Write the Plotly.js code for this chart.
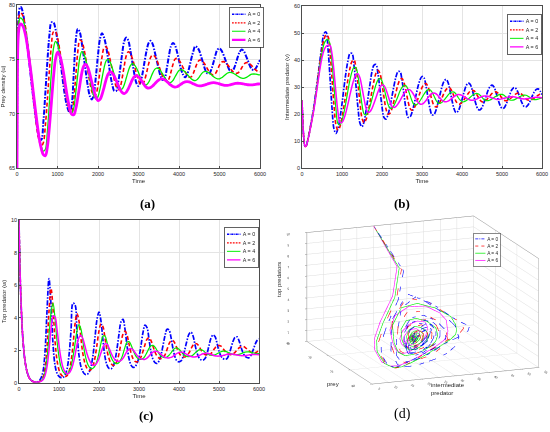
<!DOCTYPE html>
<html><head><meta charset="utf-8">
<script src="https://cdn.plot.ly/plotly-3.0.1.min.js"></script>
<style>html,body{margin:0;padding:0;background:#fff;}#chart{width:550px;height:432px;}</style>
</head><body><div id="chart"></div>
<script>
// ---------------- data ----------------
const time = [
0,10,25,50,75,100,150,200,250,300,
350,400,450,500,550,600,650,700,750,800,
850,900,950,1000,1050,1100,1150,1200,1250,1300,
1350,1400,1450,1500,1550,1600,1650,1700,1750,1800,
1850,1900,1950,2000,2050,2100,2150,2200,2250,2300,
2350,2400,2450,2500,2550,2600,2650,2700,2750,2800,
2850,2900,2950,3000,3050,3100,3150,3200,3250,3300,
3350,3400,3450,3500,3550,3600,3650,3700,3750,3800,
3850,3900,3950,4000,4050,4100,4150,4200,4250,4300,
4350,4400,4450,4500,4550,4600,4650,4700,4750,4800,
4850,4900,4950,5000,5050,5100,5150,5200,5250,5300,
5350,5400,5450,5500,5550,5600,5650,5700,5750,5800,
5850,5900,5950,6000];

const legendNames = ['A = 0','A = 2','A = 4','A = 6'];

// prey density u
const preyA0 = [
65,75,78,79.4,79.8,79.8,79.2,77.9,76.4,74.8,
73.1,71.5,70.0,68.7,67.7,67.6,69.2,71.9,74.8,77.2,
78.4,78.4,77.8,76.7,75.4,74.0,72.5,71.3,70.5,70.1,
70.8,73.6,76.7,77.8,77.5,76.5,75.2,73.8,72.5,71.6,
71.3,71.9,73.5,75.4,76.9,77.4,77.0,76.2,75.0,73.7,
72.7,72.1,72.1,72.9,74.2,75.6,76.7,77.0,76.7,75.8,
74.7,73.6,72.8,72.55,72.9,73.7,74.8,75.8,76.5,76.7,
76.4,75.7,74.9,74.1,73.4,73.1,73.3,74.2,75.3,76.2,
76.5,76.3,75.7,74.9,74.1,73.6,73.35,73.6,74.2,75.0,
75.7,76.2,76.1,75.8,75.2,74.6,74.0,73.7,73.7,74.1,
74.7,75.4,75.9,76.0,75.8,75.4,74.9,74.4,74.0,73.9,
74.1,74.6,75.2,75.7,75.9,75.75,75.35,74.9,74.4,74.1,
74.0,74.2,74.55,74.95];
const preyA2 = [
65,74.5,77.6,78.9,79.25,79.25,78.97,78.15,76.86,75.2,
73.43,71.6,69.94,68.47,67.49,67.02,67.32,68.9,71.3,74.0,
76.3,77.54,77.56,76.99,75.98,74.69,73.28,71.95,70.89,70.22,
70.08,71.23,73.43,75.65,76.77,76.64,76.02,75.03,73.91,72.85,
72.02,71.62,71.79,72.64,73.97,75.23,76.06,76.16,75.76,74.96,
74.06,73.16,72.48,72.2,72.48,73.36,74.44,75.35,75.7,75.53,
75.06,74.39,73.67,73.08,72.71,72.69,73.08,73.78,74.58,75.17,
75.4,75.28,74.94,74.44,73.9,73.42,73.07,72.95,73.19,73.81,
74.52,75.01,75.09,74.93,74.62,74.24,73.86,73.54,73.37,73.39,
73.69,74.18,74.65,74.92,74.92,74.76,74.47,74.15,73.84,73.63,
73.55,73.69,74.05,74.46,74.75,74.79,74.69,74.49,74.25,74.0,
73.81,73.71,73.74,73.93,74.23,74.52,74.69,74.68,74.58,74.4,
74.19,74.0,73.88,73.85];
const preyA4 = [
65,74,77.2,78.5,78.8,78.8,78.58,77.9,76.83,75.42,
73.88,72.21,70.56,69.08,67.85,66.99,66.55,66.73,68.36,71.02,
73.88,75.98,76.65,76.36,75.64,74.54,73.35,72.16,71.1,70.35,
70.05,70.49,71.89,73.61,75.11,75.7,75.5,74.92,74.09,73.13,
72.25,71.61,71.35,71.57,72.3,73.27,74.22,74.85,74.99,74.74,
74.22,73.6,72.96,72.45,72.21,72.29,72.69,73.3,73.94,74.42,
74.6,74.49,74.2,73.78,73.31,72.92,72.69,72.67,72.89,73.29,
73.73,74.07,74.2,74.13,73.92,73.62,73.31,73.04,72.88,72.87,
73.05,73.37,73.71,73.97,74.05,73.99,73.84,73.64,73.42,73.22,
73.09,73.05,73.15,73.37,73.64,73.84,73.9,73.85,73.73,73.57,
73.41,73.28,73.21,73.21,73.3,73.45,73.61,73.74,73.8,73.78,
73.7,73.59,73.46,73.34,73.27,73.25,73.31,73.42,73.55,73.63,
73.65,73.63,73.6,73.56];
const preyA6 = [
65,73.5,76.7,77.9,78.25,78.25,78.03,77.4,76.39,75.03,
73.63,72.03,70.47,69.02,67.68,66.78,66.23,66.12,66.94,68.77,
71.07,73.31,75.01,75.65,75.42,74.73,73.74,72.54,71.39,70.49,
69.94,69.9,70.43,71.45,72.62,73.75,74.41,74.53,74.23,73.61,
72.85,72.09,71.5,71.21,71.31,71.76,72.43,73.13,73.66,73.85,
73.75,73.46,73.05,72.61,72.19,71.94,71.85,71.98,72.31,72.72,
73.14,73.42,73.5,73.4,73.17,72.89,72.61,72.41,72.35,72.41,
72.55,72.74,72.94,73.1,73.19,73.19,73.11,72.96,72.78,72.62,
72.5,72.45,72.48,72.58,72.71,72.84,72.93,72.95,72.92,72.85,
72.76,72.67,72.59,72.55,72.56,72.6,72.66,72.73,72.79,72.83,
72.85,72.84,72.8,72.74,72.68,72.63,72.6,72.6,72.64,72.7,
72.75,72.78,72.8,72.79,72.77,72.73,72.69,72.66,72.65,72.65,
72.67,72.7,72.73,72.75];

// intermediate predator v
const midA0 = [
25,21,15.5,10.2,8.0,8.1,10.8,14.5,18.5,23.0,
28.5,34.0,40.0,45.5,49.8,50.4,44.2,33.6,22.3,14.5,
12.8,14.7,18.6,23.8,29.9,35.4,39.8,42.4,42.4,38.0,
30.4,22.2,16.6,15.3,17.1,21.1,26.0,31.1,35.7,38.1,
38.3,34.8,28.9,22.7,18.7,18.1,19.7,22.9,26.6,30.5,
33.8,35.7,35.7,32.5,27.1,21.9,18.8,18.9,20.6,23.5,
26.9,30.2,32.6,33.9,33.4,30.4,26.0,22.0,19.7,19.8,
21.4,24.1,27.2,30.1,32.1,32.8,31.7,28.7,25.1,22.0,
20.5,21.0,22.7,25.3,28.0,30.3,31.4,31.1,29.2,26.45,
23.6,21.8,21.5,22.4,24.3,26.4,28.7,30.1,30.7,30.0,
28.0,25.5,23.3,22.1,22.2,23.5,25.4,27.4,29.1,29.8,
29.4,28.0,26.0,24.1,22.85,22.65,23.3,24.7,26.4,28.0,
29.0,29.3,28.6,27.2];
const midA2 = [
25,21,15.5,10.2,8.0,8.1,10.7,14.3,18.2,22.6,
27.9,33.3,39.0,44.0,47.7,49.3,48.7,42.9,33.3,23.2,
15.9,14.05,15.4,18.6,23.0,28.1,33.0,37.0,39.5,40.0,
37.1,31.0,24.0,18.5,16.8,17.9,20.7,24.4,28.6,32.3,
35.1,36.2,35.0,31.1,26.2,21.9,19.9,20.3,22.1,24.9,
28.1,30.9,32.7,33.15,31.6,28.4,24.8,22.1,21.4,22.1,
23.6,25.7,27.9,29.8,31.0,31.27,30.1,27.8,25.1,23.1,
22.6,23.2,24.4,26.0,27.7,29.0,29.7,29.6,28.4,26.5,
24.7,23.7,23.7,24.25,25.3,26.4,27.5,28.4,28.8,28.6,
27.66,26.4,25.2,24.5,24.6,25.1,25.9,26.75,27.6,28.05,
28.2,27.75,26.9,25.85,25.1,24.9,25.1,25.6,26.25,26.9,
27.45,27.76,27.7,27.2,26.45,25.65,25.15,25.13,25.4,25.85,
26.4,26.9,27.3,27.5];
const midA4 = [
25,21,15.5,10.2,8.0,8.1,10.6,14.1,17.9,22.2,
27.3,32.6,38.0,42.6,45.9,47.3,47.6,45.9,39.2,30.3,
21.8,16.4,16.0,17.6,20.6,24.5,28.8,32.7,35.7,37.3,
37.1,33.9,28.8,23.55,20.1,19.6,20.7,22.8,25.5,28.3,
30.9,32.6,33.2,32.25,29.6,26.5,23.6,22.1,22.2,23.2,
24.8,26.6,28.5,29.9,30.6,30.5,29.1,27.0,24.9,23.5,
23.35,23.85,24.9,26.1,27.3,28.4,29.0,29.0,28.15,26.65,
25.1,24.1,23.95,24.3,25.1,26.05,27.0,27.8,28.15,28.1,
27.4,26.2,25.2,24.55,24.55,24.9,25.5,26.1,26.8,27.3,
27.6,27.5,27.0,26.2,25.4,24.95,24.95,25.2,25.6,26.1,
26.6,27.0,27.25,27.27,26.9,26.3,25.7,25.2,25.1,25.25,
25.6,26.0,26.45,26.8,27.0,26.95,26.6,26.07,25.6,25.3,
25.35,25.5,25.75,26.0];
const midA6 = [
25,21,15.5,10.2,8.0,8.1,10.5,13.9,17.6,21.8,
26.7,31.8,36.8,40.9,43.6,45.0,45.45,45.4,42.3,35.7,
27.6,20.6,16.9,16.9,18.3,20.75,23.8,27.2,30.3,32.9,
34.5,34.85,33.3,29.8,25.75,22.25,20.65,20.9,22.1,24.0,
26.1,28.25,29.9,30.7,30.55,29.1,26.85,24.5,22.85,22.4,
22.8,23.75,24.95,26.35,27.65,28.6,29.05,28.95,28.15,26.95,
25.6,24.4,23.7,23.65,24.15,25.0,26.05,26.95,27.6,27.8,
27.5,26.8,25.9,25.1,24.6,24.5,24.75,25.25,25.85,26.45,
26.95,27.2,27.15,26.9,26.45,25.99,25.53,25.21,25.1,25.19,
25.43,25.77,26.15,26.47,26.66,26.69,26.56,26.3,26.0,25.69,
25.48,25.4,25.45,25.6,25.8,26.05,26.25,26.37,26.4,26.35,
26.2,26.0,25.8,25.66,25.6,25.62,25.7,25.85,26.0,26.12,
26.19,26.19,26.12,26.0];

// top predator w
const topA0 = [
10,8.6,6.9,5.0,3.6,2.6,1.35,0.7,0.35,0.17,
0.09,0.06,0.07,0.12,0.3,0.7,1.9,4.4,6.4,4.8,
2.4,1.1,0.6,0.4,0.33,0.34,0.48,0.85,1.7,3.2,
4.9,4.8,3.0,1.7,1.0,0.68,0.53,0.52,0.65,1.0,
1.7,2.8,3.9,4.35,3.8,2.6,1.6,1.1,0.9,0.87,
1.0,1.4,2.1,3.0,3.75,3.9,3.3,2.3,1.5,1.1,
0.96,1.0,1.2,1.6,2.3,3.1,3.55,3.4,2.7,1.9,
1.45,1.25,1.2,1.35,1.7,2.3,2.9,3.3,3.25,2.8,
2.1,1.6,1.35,1.3,1.35,1.6,2.1,2.6,3.0,3.12,
2.9,2.35,1.85,1.55,1.42,1.4,1.5,1.8,2.3,2.75,
2.95,2.85,2.45,1.95,1.65,1.5,1.45,1.5,1.75,2.15,
2.55,2.8,2.83,2.6,2.2,1.85,1.65,1.56,1.55,1.7,
2.0,2.35,2.6,2.7];
const topA2 = [
10,8.6,6.9,5.0,3.6,2.6,1.35,0.7,0.35,0.17,
0.09,0.06,0.06,0.08,0.15,0.35,0.9,2.2,4.4,5.8,
4.6,2.6,1.4,0.8,0.52,0.4,0.38,0.45,0.7,1.3,
2.3,3.6,4.25,3.8,2.7,1.75,1.2,0.9,0.78,0.82,
1.05,1.55,2.35,3.2,3.62,3.45,2.75,2.0,1.5,1.2,
1.08,1.12,1.35,1.8,2.45,3.0,3.18,2.95,2.4,1.85,
1.5,1.33,1.3,1.38,1.6,1.95,2.35,2.68,2.77,2.6,
2.25,1.9,1.65,1.53,1.5,1.55,1.72,2.05,2.4,2.58,
2.6,2.42,2.12,1.85,1.68,1.61,1.6,1.68,1.85,2.1,
2.32,2.42,2.4,2.25,2.03,1.85,1.75,1.7,1.71,1.8,
1.98,2.15,2.27,2.3,2.26,2.12,1.95,1.83,1.76,1.74,
1.78,1.88,2.02,2.15,2.23,2.25,2.19,2.08,1.97,1.89,
1.85,1.86,1.91,1.98];
const topA4 = [
10,8.6,6.9,5.0,3.6,2.6,1.35,0.7,0.35,0.17,
0.09,0.06,0.06,0.07,0.13,0.28,0.65,1.5,2.9,4.3,
4.9,4.0,2.6,1.6,1.0,0.7,0.58,0.57,0.68,1.0,
1.6,2.4,3.2,3.58,3.3,2.5,1.75,1.27,1.0,0.89,
0.9,1.05,1.35,1.85,2.45,2.88,2.88,2.5,2.0,1.6,
1.35,1.22,1.19,1.26,1.45,1.78,2.2,2.5,2.54,2.35,
2.02,1.75,1.56,1.47,1.45,1.5,1.65,1.88,2.12,2.28,
2.31,2.2,2.0,1.8,1.65,1.58,1.56,1.6,1.7,1.85,
2.02,2.13,2.15,2.07,1.93,1.79,1.69,1.63,1.62,1.65,
1.72,1.83,1.94,2.03,2.05,1.99,1.89,1.8,1.74,1.71,
1.7,1.73,1.79,1.86,1.92,1.95,1.95,1.91,1.85,1.8,
1.76,1.74,1.74,1.76,1.8,1.85,1.89,1.91,1.91,1.88,
1.85,1.82,1.8,1.8];
const topA6 = [
10,8.6,6.9,5.0,3.6,2.6,1.35,0.7,0.35,0.17,
0.09,0.06,0.06,0.07,0.1,0.2,0.45,1.0,2.0,3.3,
4.1,4.05,3.3,2.3,1.5,0.95,0.68,0.57,0.6,0.78,
1.15,1.7,2.35,2.8,2.93,2.7,2.25,1.8,1.45,1.22,
1.1,1.1,1.25,1.5,1.85,2.2,2.4,2.38,2.15,1.85,
1.6,1.43,1.35,1.33,1.38,1.52,1.73,1.95,2.08,2.11,
2.03,1.87,1.7,1.56,1.48,1.45,1.46,1.53,1.65,1.8,
1.9,1.95,1.94,1.87,1.76,1.66,1.58,1.55,1.54,1.57,
1.64,1.73,1.82,1.88,1.9,1.88,1.82,1.74,1.67,1.62,
1.6,1.6,1.63,1.68,1.74,1.79,1.82,1.82,1.8,1.76,
1.71,1.67,1.65,1.65,1.66,1.69,1.72,1.76,1.78,1.78,
1.77,1.75,1.72,1.7,1.68,1.68,1.68,1.7,1.72,1.74,
1.75,1.75,1.75,1.74];

const timeTicks = [0,1000,2000,3000,4000,5000,6000];
const preyTicks = [65,70,75,80];
const midTicks = [0,10,20,30,40,50,60];
const topTicks = [0,2,4,6,8,10];
const midTicks3d = [5,10,15,20,25,30,35,40,45,50,55];
const topTicks3d = [0,1,2,3,4,5,6,7,8,9,10];

// ---------------- styles ----------------
const colors = ['#0000ff','#ff0000','#00ee00','#ff00ff'];
const dashes2d = ['5px,1.5px,1.5px,1.5px','4px,2.5px','solid','solid'];
const dashes3d = ['dashdot','dash','solid','solid'];
const FONT = 'Liberation Sans, Arial, sans-serif';
const W = 550, H = 432;

const preySets = [preyA0, preyA2, preyA4, preyA6];
const midSets = [midA0, midA2, midA4, midA6];
const topSets = [topA0, topA2, topA4, topA6];

const widthsA = [2.0, 1.6, 1.3, 2.8];
const widthsBC = [1.7, 1.6, 1.2, 1.5];

const traces = [];
function add2d(sets, xa, ya, widths, leg){
  sets.forEach((ys, i) => {
    traces.push({type:'scatter', mode:'lines', x: time, y: ys, xaxis: xa, yaxis: ya,
      name: legendNames[i], legend: leg,
      line: {color: colors[i], width: widths[i], dash: dashes2d[i], shape:'spline', smoothing: 1},
      hoverinfo:'skip'});
  });
}
add2d(preySets, 'x', 'y', widthsA, 'legend');
add2d(midSets, 'x2', 'y2', widthsBC, 'legend2');
add2d(topSets, 'x3', 'y3', widthsBC, 'legend3');
for (let i = 0; i < 4; i++) {
  traces.push({type:'scatter3d', mode:'lines', x: preySets[i], y: midSets[i], z: topSets[i],
    name: legendNames[i], legend:'legend4', scene:'scene',
    line: {color: colors[i], width: 1.2, dash: dashes3d[i]}, hoverinfo:'skip'});
}

const px = v => v / W, py = v => 1 - v / H;

function xAx(domain){
  return {domain, range:[0,6000], tickvals: timeTicks, showline:true, mirror:true, linecolor:'#4d4d4d', linewidth:0.8,
    showgrid:true, gridcolor:'#e4e4e4', gridwidth:0.6, zeroline:false, ticks:'inside', ticklen:2, tickcolor:'#4d4d4d',
    tickfont:{family:FONT, size:5.5, color:'#262626'}, title:{text:'Time', font:{family:FONT, size:6, color:'#262626'}, standoff:3}};
}
function yAx(domain, range, tickvals, title, anchor){
  return {domain, range, tickvals, anchor, showline:true, mirror:true, linecolor:'#4d4d4d', linewidth:0.8,
    showgrid:true, gridcolor:'#e4e4e4', gridwidth:0.6, zeroline:false, ticks:'inside', ticklen:2, tickcolor:'#4d4d4d',
    tickfont:{family:FONT, size:5.5, color:'#262626'}, title:{text:title, font:{family:FONT, size:6, color:'#262626'}, standoff:3}};
}
function legendAt(xl, yt, fs){
  return {x: px(xl), y: py(yt), xanchor:'left', yanchor:'top', bgcolor:'#ffffff', bordercolor:'#262626', borderwidth:1.6,
    font:{family:FONT, size:fs || 12, color:'#262626'}, tracegroupgap:0, itemwidth:30};
}
const ax3 = {showbackground:false, showgrid:true, gridcolor:'#dcdcdc', gridwidth:1, showline:true, linecolor:'#8a8a8a', linewidth:1,
  mirror:true, ticks:'outside', ticklen:2, tickcolor:'#8a8a8a', tickfont:{family:FONT, size:6, color:'#333333'},
  showspikes:false, zeroline:false, autorange:false, title:{text:''}};

function note(text, x, y, opts){
  return Object.assign({text, x:px(x), y:py(y), xref:'paper', yref:'paper', showarrow:false,
    font:{family:FONT, size:6, color:'#262626'}}, opts || {});
}
const serif = {family:'Liberation Serif, serif', size:13, color:'#000'};

const layout = {
  width: W, height: H, margin:{l:0,r:0,t:0,b:0, autoexpand:false}, paper_bgcolor:'#ffffff', plot_bgcolor:'#ffffff',
  showlegend:true,
  xaxis: Object.assign(xAx([px(17), px(260)]), {anchor:'y'}),
  yaxis: yAx([py(168), py(5)], [65,80], preyTicks, 'Prey density (u)', 'x'),
  xaxis2: Object.assign(xAx([px(302), px(542)]), {anchor:'y2'}),
  yaxis2: yAx([py(168), py(6)], [0,60], midTicks, 'Intermediate predator (v)', 'x2'),
  xaxis3: Object.assign(xAx([px(19), px(259)]), {anchor:'y3'}),
  yaxis3: yAx([py(383), py(220)], [0,10], topTicks, 'Top predator (w)', 'x3'),
  legend: legendAt(229, 7),
  legend2: legendAt(507, 14),
  legend3: legendAt(224, 227),
  legend4: legendAt(473, 233, 14),
  scene: {
    domain:{x:[0.49, 1.0], y:[py(399.5), py(199.5)]},
    bgcolor:'#ffffff',
    xaxis: Object.assign({}, ax3, {range:[65,80], tickvals:preyTicks}),
    yaxis: Object.assign({}, ax3, {range:[5,55], tickvals:midTicks3d}),
    zaxis: Object.assign({}, ax3, {range:[0,10], tickvals:topTicks3d}),
    aspectmode:'manual', aspectratio:{x:1.789, y:1.789, z:1.127},
    camera:{eye:{x:2.2075, y:-0.9921, z:0.639}, center:{x:-0.0445, y:-0.1141, z:0}, up:{x:0,y:0,z:1}, projection:{type:'orthographic'}}
  },
  annotations:[
    note('top predators', 279, 280, {textangle:-90}),
    note('prey', 333, 389),
    note('intermediate<br>predator', 429, 398, {xanchor:'left', align:'left'}),
    {text:'<b>(a)</b>', x:px(138), y:py(203), xref:'paper', yref:'paper', showarrow:false, font:serif},
    {text:'<b>(b)</b>', x:px(412), y:py(203), xref:'paper', yref:'paper', showarrow:false, font:serif},
    {text:'<b>(c)</b>', x:px(137), y:py(425), xref:'paper', yref:'paper', showarrow:false, font:serif},
    {text:'(d)', x:px(413), y:py(424), xref:'paper', yref:'paper', showarrow:false, font:Object.assign({}, serif, {size:14})}
  ]
};

const legendScale = {legend:0.45, legend2:0.45, legend3:0.45, legend4:0.34};
function shrinkLegends(gd){
  gd.querySelectorAll('g.infolayer > g').forEach(g => {
    const cls = g.getAttribute('class') || '';
    if (!(cls in legendScale)) return;
    let tr = (g.getAttribute('transform') || '').replace(/\s*scale\([^)]*\)/, '');
    g.setAttribute('transform', tr + ' scale(' + legendScale[cls] + ')');
    if (!g.dataset.thick) {
      g.querySelectorAll('.legendlines path').forEach(p => {
        const w = parseFloat(p.style.strokeWidth) || 1;
        p.style.strokeWidth = (w * 1.8) + 'px';
      });
      g.dataset.thick = '1';
    }
  });
}

const gd = document.getElementById('chart');
Plotly.newPlot(gd, traces, layout, {displayModeBar:false, responsive:false}).then(() => {
  shrinkLegends(gd);
  gd.on('plotly_afterplot', () => shrinkLegends(gd));
});
</script></body></html>
